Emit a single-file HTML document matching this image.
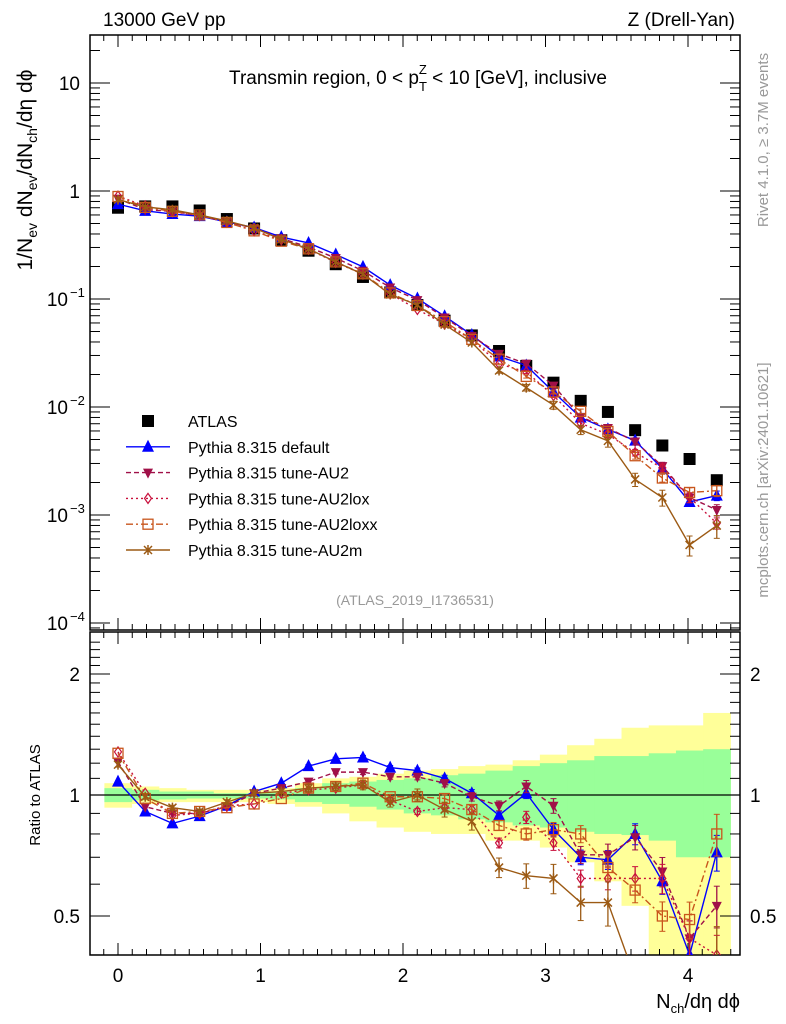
<!DOCTYPE html>
<html><head><meta charset="utf-8"><style>
html,body{margin:0;padding:0;background:#fff;width:786px;height:1024px;overflow:hidden;}
svg{display:block;font-family:"Liberation Sans",sans-serif;}
</style></head><body>
<svg id="chart" width="786" height="1024" viewBox="0 0 786 1024" xmlns="http://www.w3.org/2000/svg"></svg>
<script>
const xVals=[0,0.191,0.382,0.573,0.764,0.955,1.146,1.337,1.528,1.719,1.910,2.101,2.292,2.483,2.674,2.865,3.056,3.247,3.438,3.629,3.820,4.011,4.202];
const atlas=[0.70,0.72,0.72,0.66,0.55,0.45,0.35,0.28,0.21,0.16,0.115,0.088,0.063,0.046,0.033,0.024,0.0168,0.0114,0.0090,0.0061,0.0044,0.0033,0.0021];
const rDefault=[1.08,0.91,0.85,0.886,0.94,1.02,1.07,1.18,1.23,1.24,1.17,1.15,1.10,1.01,0.89,1.01,0.82,0.70,0.69,0.80,0.61,0.40,0.72];
const rAU2=[1.21,0.935,0.90,0.90,0.935,1.01,1.04,1.08,1.14,1.14,1.11,1.11,1.07,0.99,0.94,1.05,0.94,0.71,0.71,0.785,0.645,0.44,0.53];
const rLox=[1.28,1.01,0.89,0.90,0.94,0.95,1.01,1.03,1.04,1.06,0.97,0.91,0.93,0.92,0.76,0.88,0.76,0.62,0.62,0.62,0.62,0.44,0.40];
const rLoxx=[1.27,0.98,0.90,0.91,0.93,0.95,0.98,1.04,1.05,1.07,0.99,0.99,0.98,0.92,0.84,0.80,0.82,0.80,0.66,0.58,0.50,0.49,0.80];
const rAU2m=[1.19,0.99,0.93,0.91,0.96,1.01,1.02,1.04,1.05,1.06,0.96,1.00,0.92,0.86,0.66,0.63,0.62,0.54,0.54,0.35,0.33,0.16,0.38];
const relErr=[0.01,0.01,0.01,0.01,0.01,0.01,0.01,0.015,0.015,0.02,0.02,0.025,0.03,0.035,0.04,0.05,0.06,0.07,0.09,0.1,0.12,0.15,0.17];
const yelUp=[1.07,1.05,1.04,1.03,1.03,1.03,1.04,1.07,1.10,1.11,1.13,1.15,1.16,1.18,1.19,1.22,1.26,1.33,1.38,1.47,1.49,1.49,1.60];
const yelDn=[0.93,0.95,0.96,0.96,0.96,0.96,0.95,0.935,0.90,0.86,0.83,0.81,0.80,0.80,0.77,0.77,0.74,0.68,0.61,0.53,0.40,0.35,0.40];
const grnUp=[1.04,1.03,1.02,1.02,1.01,1.01,1.02,1.04,1.07,1.08,1.09,1.10,1.12,1.13,1.15,1.18,1.20,1.22,1.25,1.25,1.27,1.29,1.30];
const grnDn=[0.96,0.97,0.975,0.98,0.98,0.98,0.975,0.96,0.95,0.935,0.92,0.90,0.89,0.87,0.855,0.84,0.83,0.81,0.80,0.795,0.77,0.70,0.70];
const xTicks=[0,1,2,3,4];
const mainTickExp=[1,0,-1,-2,-3,-4];
const ratioTicks=[0.5,1,2];

const NS="http://www.w3.org/2000/svg";
const svg=document.getElementById('chart');
const L=90,R=740,MT=35,MB=630,RT=632,RB=955;
const X=v=>118+v*142.5;
const Y=v=>191-Math.log10(v)*108;
const YR=v=>795-Math.log2(v)*121;
function el(tag,attrs,parent){const e=document.createElementNS(NS,tag);for(const k in attrs)e.setAttribute(k,attrs[k]);(parent||svg).appendChild(e);return e;}
function txt(s,x,y,size,anchor,fill,parent){const t=el('text',{x:x,y:y,'font-size':size,'text-anchor':anchor||'start',fill:fill||'#000'},parent);t.textContent=s;return t;}

const defs=el('defs',{});
const c1=el('clipPath',{id:'cm'},defs);el('rect',{x:L,y:MT,width:R-L,height:MB-MT},c1);
const c2=el('clipPath',{id:'cr'},defs);el('rect',{x:L,y:RT,width:R-L,height:RB-RT},c2);

const bands=el('g',{'clip-path':'url(#cr)'});


const hw=0.0955;
function band(up,dn,col,name){
  for(let i=0;i<xVals.length;i++){
    const x0=X(xVals[i]-hw),x1=X(xVals[i]+hw);
    const r=el('rect',{x:x0,y:YR(up[i]),width:x1-x0+0.5,height:YR(dn[i])-YR(up[i]),fill:col},bands);
    
    
  }
}
band(yelUp,yelDn,'#ffff99','yellow-band-bin');
band(grnUp,grnDn,'#99ff99','green-band-bin');
el('line',{x1:L,x2:R,y1:YR(1),y2:YR(1),stroke:'#000','stroke-width':1.2});

el('rect',{x:L,y:MT,width:R-L,height:MB-MT,fill:'none',stroke:'#000','stroke-width':1.5});
el('rect',{x:L,y:RT,width:R-L,height:RB-RT,fill:'none',stroke:'#000','stroke-width':1.5});

for(let v=-0.1;v<=4.35;v+=0.1){
  const vv=Math.round(v*10)/10;const major=Math.abs(vv-Math.round(vv))<1e-6;const x=X(vv);
  if(x<L||x>R)continue;
  const len=major?12:6;
  el('line',{x1:x,x2:x,y1:MT,y2:MT+len,stroke:'#000'});
  el('line',{x1:x,x2:x,y1:MB,y2:MB-len,stroke:'#000'});
  el('line',{x1:x,x2:x,y1:RT,y2:RT+len,stroke:'#000'});
  el('line',{x1:x,x2:x,y1:RB,y2:RB-len,stroke:'#000'});
}
xTicks.forEach(v=>{const t=txt(String(v),X(v),982,19,'middle');});

for(let e=-5;e<=1;e++){for(let m=1;m<10;m++){const v=m*Math.pow(10,e);const y=Y(v);if(y<MT||y>MB)continue;const len=m===1?20:10;
  el('line',{x1:L,x2:L+len,y1:y,y2:y,stroke:'#000'});el('line',{x1:R,x2:R-len,y1:y,y2:y,stroke:'#000'});}}
mainTickExp.forEach(e=>{const y=Y(Math.pow(10,e))+7;let t;
  if(e===1)t=txt('10',80,y,19,'end');else if(e===0)t=txt('1',80,y,19,'end');
  else{t=txt('10',68,y,19,'end');txt(String(e).replace('-','\u2212'),70,y-9,13,'start');}
  });

for(let v=0.4;v<=2.5;v+=0.1){const vv=Math.round(v*10)/10;const y=YR(vv);if(y<RT||y>RB)continue;const major=(vv===0.5||vv===1||vv===2);const len=major?20:10;
  el('line',{x1:L,x2:L+len,y1:y,y2:y,stroke:'#000'});el('line',{x1:R,x2:R-len,y1:y,y2:y,stroke:'#000'});}
ratioTicks.forEach(v=>{const y=YR(v)+7;const s=String(v);
  const a=txt(s,80,y,19,'end');
  const b=txt(s,750,y,19,'start');});

const series=[
 {name:'atlas',col:'#000',r:null,dash:'',mk:'sq'},
 {name:'default',col:'#0000ff',r:rDefault,dash:'',mk:'tri',ef:0.6},
 {name:'au2',col:'#a01048',r:rAU2,dash:'5,3',mk:'dtri',ef:0.7},
 {name:'au2lox',col:'#c8103c',r:rLox,dash:'2,3',mk:'dia',ef:0.7},
 {name:'au2loxx',col:'#c8561c',r:rLoxx,dash:'7,3,2,3',mk:'osq',ef:0.7},
 {name:'au2m',col:'#9c5a14',r:rAU2m,dash:'',mk:'star',ef:1.4}
];
function marker(g,type,x,y,col){
  let m;
  if(type==='sq')m=el('rect',{x:x-6,y:y-6,width:12,height:12,fill:'#000'},g);
  else if(type==='tri')m=el('polygon',{points:`${x},${y-7} ${x-6},${y+5} ${x+6},${y+5}`,fill:col},g);
  else if(type==='dtri')m=el('polygon',{points:`${x},${y+6} ${x-5},${y-4} ${x+5},${y-4}`,fill:col},g);
  else if(type==='dia')m=el('polygon',{points:`${x},${y-5} ${x-3.5},${y} ${x},${y+5} ${x+3.5},${y}`,fill:'none',stroke:col,'stroke-width':1.2},g);
  else if(type==='osq')m=el('rect',{x:x-5,y:y-5,width:10,height:10,fill:'none',stroke:col,'stroke-width':1.3},g);
  else {m=el('path',{d:`M${x-4},${y-4}L${x+4},${y+4}M${x+4},${y-4}L${x-4},${y+4}M${x},${y-5}L${x},${y+5}`,stroke:col,'stroke-width':1.5},g);}
  return m;
}
function drawSeries(s,ratioPanel){
  const g=el('g',{'clip-path':ratioPanel?'url(#cr)':'url(#cm)'});
  
  
  const vals=xVals.map((x,i)=>ratioPanel?(s.r?s.r[i]:1):(s.r?atlas[i]*s.r[i]:atlas[i]));
  const yf=ratioPanel?YR:Y;
  if(s.r){
    const pts=xVals.map((x,i)=>X(x)+','+yf(vals[i])).join(' ');
    el('polyline',{points:pts,fill:'none',stroke:s.col,'stroke-width':1.4,'stroke-dasharray':s.dash},g);
    xVals.forEach((x,i)=>{const e=relErr[i]*s.ef;const y1=yf(vals[i]*(1+e)),y2=yf(vals[i]*(1-e));
      if(y2-y1>3){el('line',{x1:X(x),x2:X(x),y1:y1,y2:y2,stroke:s.col,'stroke-width':1.3},g);
      el('line',{x1:X(x)-3,x2:X(x)+3,y1:y1,y2:y1,stroke:s.col},g);el('line',{x1:X(x)-3,x2:X(x)+3,y1:y2,y2:y2,stroke:s.col},g);}});
  }
  if(s.r||!ratioPanel){
    xVals.forEach((x,i)=>{const m=marker(g,s.mk,X(x),yf(vals[i]),s.col);
      
      });
  }
}
series.forEach(s=>drawSeries(s,false));
series.forEach(s=>{if(s.r)drawSeries(s,true);});

const labels=['ATLAS','Pythia 8.315 default','Pythia 8.315 tune-AU2','Pythia 8.315 tune-AU2lox','Pythia 8.315 tune-AU2loxx','Pythia 8.315 tune-AU2m'];
const lg=el('g',{});
series.forEach((s,i)=>{const y=421+i*25.8;
  const e=el('g',{},lg);
  if(s.r)el('line',{x1:126,x2:170,y1:y,y2:y,stroke:s.col,'stroke-width':1.4,'stroke-dasharray':s.dash},e);
  marker(e,s.mk,148,y,s.col);
  txt(labels[i],188,y+6,16,'start','#000',e);
});

function named(t,n){return t;}
named(txt('13000 GeV pp',103,26,19),'energy-label');
named(txt('Z (Drell-Yan)',735,26,19,'end'),'process-label');
const tt=el('text',{x:418,y:84,'font-size':19,'text-anchor':'middle'});

tt.innerHTML='Transmin region, 0 &lt; p<tspan font-size="13" dy="7">T</tspan><tspan font-size="13" dx="-8" dy="-17">Z</tspan><tspan dy="10"> &lt; 10 [GeV], inclusive</tspan>';
named(txt('(ATLAS_2019_I1736531)',415,605,14,'middle','#999'),'analysis-id');
const r1=named(txt('Rivet 4.1.0, \u2265 3.7M events',0,0,15,'middle','#999'),'rivet-label');r1.setAttribute('transform','translate(768,140) rotate(-90)');
const r2=named(txt('mcplots.cern.ch [arXiv:2401.10621]',0,0,15,'middle','#999'),'mcplots-label');r2.setAttribute('transform','translate(768,480) rotate(-90)');
const yl=el('text',{'font-size':21,'text-anchor':'middle',transform:'translate(32,170) rotate(-90)'});

yl.innerHTML='1/N<tspan font-size="14" dy="5">ev</tspan><tspan dy="-5"> dN</tspan><tspan font-size="14" dy="5">ev</tspan><tspan dy="-5">/dN</tspan><tspan font-size="14" dy="5">ch</tspan><tspan dy="-5">/d\u03b7 d\u03d5</tspan>';
const rl=named(txt('Ratio to ATLAS',0,0,15,'middle'),'ratio-axis-title');rl.setAttribute('transform','translate(40,795) rotate(-90)');
const xl=el('text',{x:740,y:1008,'font-size':20,'text-anchor':'end'});

xl.innerHTML='N<tspan font-size="13" dy="5">ch</tspan><tspan dy="-5">/d\u03b7 d\u03d5</tspan>';
</script>
</body></html>
